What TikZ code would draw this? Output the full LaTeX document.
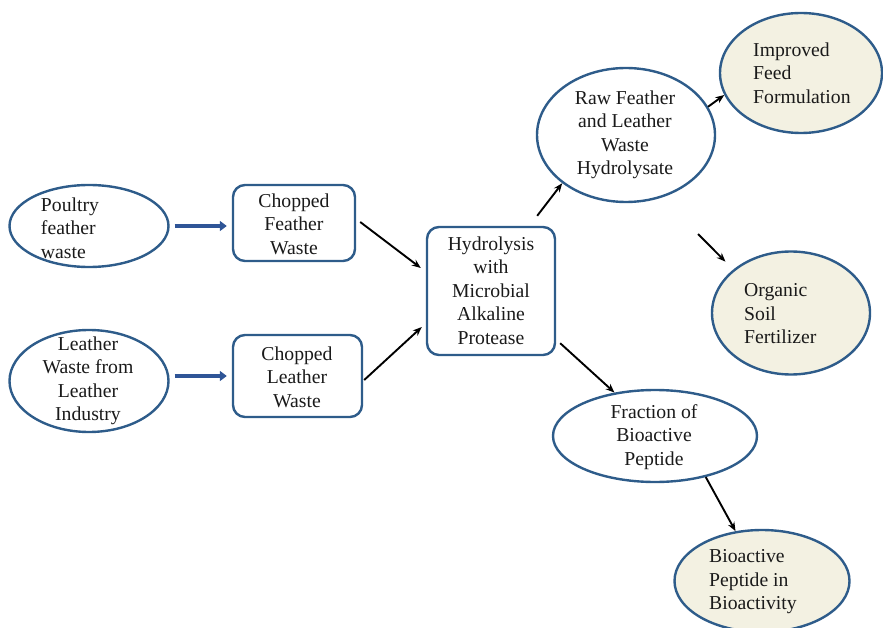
\documentclass[tikz,border=0pt]{standalone}
\usepackage{fontspec}
\setmainfont{Liberation Serif}
\usetikzlibrary{shapes.geometric,arrows.meta,calc}
\definecolor{edgeblue}{HTML}{2E5C8A}
\definecolor{arrowblue}{HTML}{2F5597}
\definecolor{cream}{HTML}{F3F1E2}
\definecolor{ink}{HTML}{1A1A1A}
\begin{document}
\begin{tikzpicture}[x=1pt,y=-1pt,
  oval/.style={ellipse, draw=edgeblue, line width=2.4pt, fill=white, inner sep=0pt},
  endoval/.style={oval, fill=cream},
  box/.style={rectangle, rounded corners=12pt, draw=edgeblue, line width=2.4pt, fill=white, inner sep=0pt},
  lbl/.style={text=ink, font=\fontsize{19.7}{23.5}\selectfont, inner sep=0pt},
  flow/.style={-{Stealth[length=9pt,width=7pt]}, line width=1.9pt, black},
  feed/.style={-{Triangle[length=7pt,width=10pt]}, line width=4.2pt, arrowblue}]
\useasboundingbox (0,0) rectangle (883,628);

% raw materials
\node[oval, minimum width=159pt, minimum height=82pt] (poultry) at (89,226) {};
\node[lbl, align=left] (poultryT) at (70,228) {Poultry\\feather\\waste};
\node[oval, minimum width=159pt, minimum height=102pt] (leather) at (89,381) {};
\node[lbl, align=center] (leatherT) at (88,381) {Leather\\Waste from\\Leather\\Industry};

% pre-treatment
\node[box, minimum width=122pt, minimum height=76pt] (chopF) at (294,223) {};
\node[lbl, align=center] (chopFT) at (294,224) {Chopped\\Feather\\Waste};
\node[box, minimum width=129pt, minimum height=82pt] (chopL) at (297.5,376) {};
\node[lbl, align=center] (chopLT) at (297,377) {Chopped\\Leather\\Waste};

% enzymatic hydrolysis
\node[box, minimum width=128pt, minimum height=128pt] (hydro) at (491,291) {};
\node[lbl, align=center] (hydroT) at (491,290.5) {Hydrolysis\\with\\Microbial\\Alkaline\\Protease};

% products
\node[oval, minimum width=178pt, minimum height=134pt] (raw) at (626,135) {};
\node[lbl, align=center] (rawT) at (625,135) {Raw Feather\\and Leather\\Waste\\Hydrolysate};
\node[endoval, minimum width=162pt, minimum height=120pt] (feedf) at (801,73) {};
\node[lbl, align=left, anchor=west] (feedfT) at (753,73) {Improved\\Feed\\Formulation};
\node[endoval, minimum width=158pt, minimum height=123pt] (organic) at (791,313) {};
\node[lbl, align=left, anchor=west] (organicT) at (744,314) {Organic\\Soil\\Fertilizer};
\node[oval, minimum width=204pt, minimum height=92pt] (fraction) at (655,436) {};
\node[lbl, align=center] (fractionT) at (654,437) {Fraction of\\Bioactive\\Peptide};
\node[endoval, minimum width=175pt, minimum height=102pt] (bio) at (762,581) {};
\node[lbl, align=left, anchor=west] (bioT) at (709,582) {Bioactive\\Peptide in\\Bioactivity};

% connectors
\draw[feed] ($(poultry.east)+(5,0)$) -- ($(chopF.west |- poultry.east)+(-5,0)$);
\draw[feed] ($(leather.east)+(5,-5)$) -- ($(chopL.west)+(-5,0)$);
\draw[flow] ($(chopF.east)+(4,-1)$) -- ($(hydro.west)+(-5,-23)$);
\draw[flow] ($(chopL.east)+(1,4)$) -- ($(hydro.west)+(-4,36)$);
\draw[flow] ($(hydro.north east)+(-19,-10)$) -- (raw.south west);
\draw[flow] (raw.19) -- (feedf.196);
\coordinate (soilTail) at (698,234);
\draw[flow, shorten >=11pt] (soilTail) -- (organic.143);
\draw[flow] ($(hydro.south east)+(4,-13)$) -- (fraction.133);
\draw[flow] (fraction.-39) -- (bio.118);
\end{tikzpicture}
\end{document}
